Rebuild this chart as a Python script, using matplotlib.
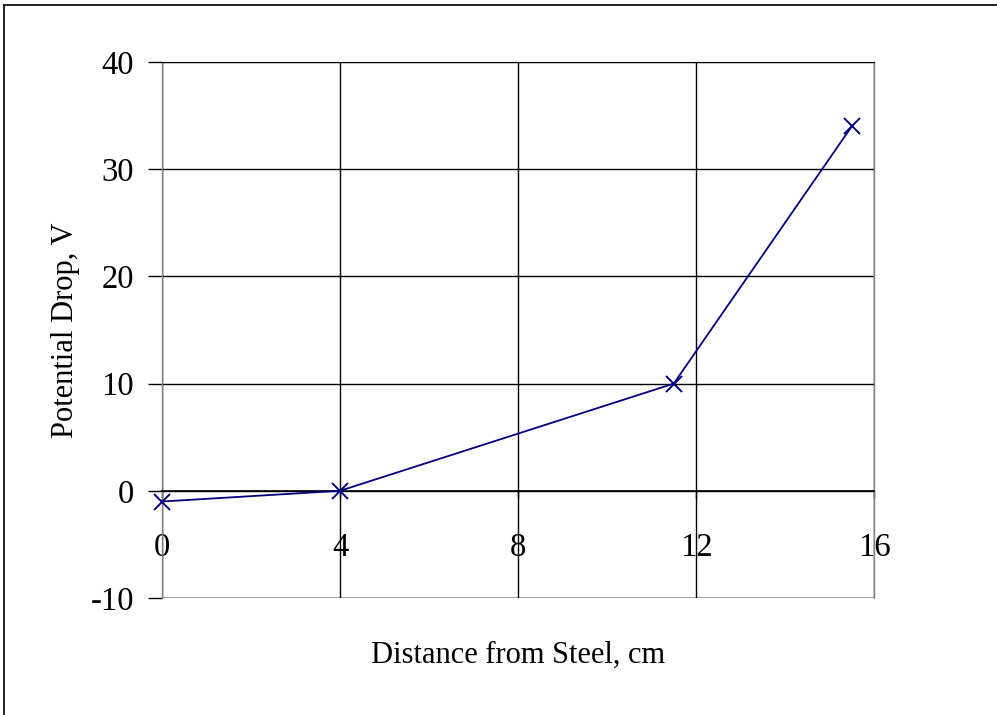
import matplotlib.pyplot as plt
from matplotlib.lines import Line2D

# data
distance = [0, 4, 11.5, 15.5]
potential_drop = [-1, 0, 10, 34]
x_ticks = [0, 4, 8, 12, 16]
y_ticks = [-10, 0, 10, 20, 30, 40]

plt.rcParams['font.family'] = ['Liberation Serif', 'DejaVu Serif']
plt.rcParams['axes.unicode_minus'] = False

fig = plt.figure(figsize=(9.97, 7.15), dpi=100)
ax = fig.add_axes([162/997, 1 - 598/715, (874 - 162)/997, (598 - 62)/715])

# outer chart border (only left and top visible)
fig.add_artist(Line2D([4/997, 4/997], [0, 1 - 5/715], color='black', lw=1.2))
fig.add_artist(Line2D([4/997, 1], [1 - 5/715, 1 - 5/715], color='black', lw=1.2))

ax.plot(distance, potential_drop, color='#000080', lw=1.3, marker='x',
        markersize=11, markeredgewidth=1.4, clip_on=False, zorder=5)

ax.set_xlim(0, 16)
ax.set_ylim(-10, 40)
ax.set_xticks(x_ticks)
ax.set_yticks(y_ticks)
ax.grid(True, color='black', lw=1.0)

for s in ['left', 'right']:
    ax.spines[s].set_color('#808080')
    ax.spines[s].set_linewidth(1.0)
ax.spines['top'].set_color('black')
ax.spines['bottom'].set_position(('data', 0))
ax.spines['bottom'].set_color('black')
ax.spines['bottom'].set_linewidth(1.2)
# bottom border of the plot area at -10
ax.axhline(-10, color='black', lw=1.0)

ax.tick_params(axis='x', direction='out', length=5, width=1, pad=25, labelsize=23.5)
ax.tick_params(axis='y', direction='out', length=10, width=1, pad=10, labelsize=23.5)

ax.set_xlabel('Distance from Steel, cm', fontsize=22)
ax.xaxis.set_label_coords(0.5, (598 - 655)/536)
ax.xaxis.label.set_va('center')
ax.set_ylabel('Potential Drop, V', fontsize=22)
ax.yaxis.set_label_coords((65 - 162)/712, 0.5)
ax.yaxis.label.set_va('center')

fig.savefig('out.png', dpi=100)
